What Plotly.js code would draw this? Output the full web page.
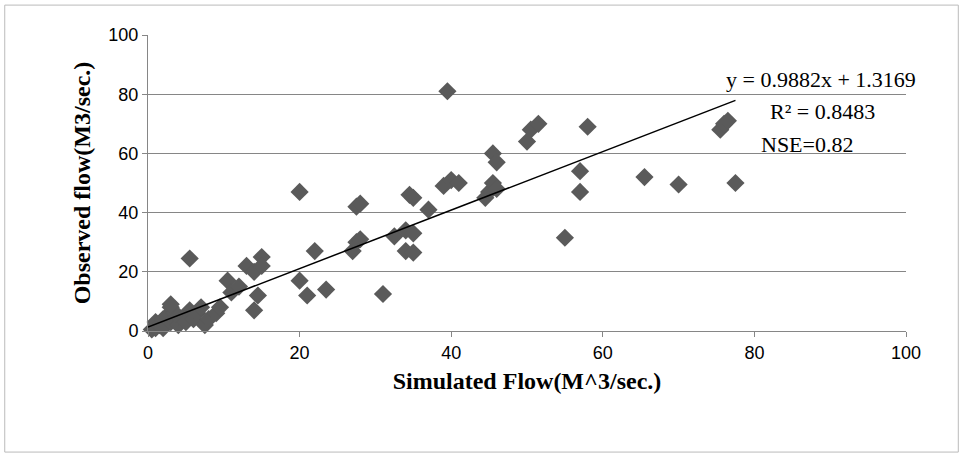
<!DOCTYPE html>
<html>
<head>
<script src="https://cdn.plot.ly/plotly-3.0.1.min.js"></script>
<style>body{margin:0;background:#fff}</style>
</head>
<body>
<div id="chart" style="width:963px;height:457px"></div>
<script>
// simulated vs observed flow
let simulated = [0.5, 1, 1, 1.5, 2, 2, 2.5, 3, 3, 3.5, 3, 4, 4, 5, 5.5, 6, 6.5, 7, 7.5, 8, 9, 9.5,
    5.5, 10.5, 11, 12, 13, 14, 14, 14.5, 15, 15, 20, 20, 21, 22, 23.5, 27, 27.5, 27.5, 28, 28,
    31, 32.5, 34, 34, 34.5, 35, 35, 35, 37, 39, 39.5, 40, 41, 44.5, 45, 45.5, 45.5, 46, 46,
    50, 50.5, 51.5, 55, 57, 57, 58, 65.5, 70, 75.5, 76, 76.5, 77.5];
let observed = [0.5, 1, 3, 2, 4, 1, 5, 3, 8, 6, 9, 2, 5, 3, 7, 4, 6, 8, 2, 4, 6, 8,
    24.5, 17, 13, 15, 22, 7, 20, 12, 25, 22, 47, 17, 12, 27, 14, 27, 30, 42, 43, 31,
    12.5, 32, 34, 27, 46, 26.5, 33, 45, 41, 49, 81, 51, 50, 45, 47, 50, 60, 57, 48,
    64, 68, 70, 31.5, 47, 54, 69, 52, 49.5, 68, 70, 71, 50];
let slope = 0.9882, intercept = 1.3169;
let fitX = [0, 77.5];
let fitY = fitX.map(v => slope * v + intercept);

let serif = "Liberation Serif, Times New Roman, serif";
let labelFont = {family: serif, size: 22, color: "#000"};
let data = [
    {
        type: "scatter", mode: "markers", x: simulated, y: observed,
        marker: {symbol: "diamond", size: 14, color: "#5a5a5a"},
        showlegend: false, cliponaxis: false
    },
    {
        type: "scatter", mode: "lines", x: fitX, y: fitY,
        line: {color: "#000", width: 1.5}, showlegend: false
    }
];
let layout = {
    width: 963, height: 457,
    margin: {l: 148, r: 57, t: 35, b: 126},
    paper_bgcolor: "#fff", plot_bgcolor: "#fff",
    xaxis: {
        range: [0, 100], dtick: 20, showgrid: false, zeroline: false,
        showline: true, linecolor: "#868686", ticks: "outside", ticklen: 5, tickcolor: "#868686",
        tickfont: {family: "Liberation Sans, Arial", size: 18, color: "#000"},
        title: {text: "<b>Simulated Flow(M^3/sec.)</b>", font: {family: serif, size: 24, color: "#000"}, standoff: 10}
    },
    yaxis: {
        range: [0, 100], dtick: 20, gridcolor: "#868686", gridwidth: 1, zeroline: false,
        showline: true, linecolor: "#868686", ticks: "outside", ticklen: 5, tickcolor: "#868686",
        tickfont: {family: "Liberation Sans, Arial", size: 18, color: "#000"},
        title: {text: "<b>Observed flow(M3/sec.)</b>", font: {family: serif, size: 24, color: "#000"}, standoff: 10}
    },
    annotations: [
        {x: 88.8, y: 85, xanchor: "center", text: "y = 0.9882x + 1.3169", showarrow: false, font: labelFont},
        {x: 89, y: 74, xanchor: "center", text: "R² = 0.8483", showarrow: false, font: labelFont},
        {x: 87, y: 63, xanchor: "center", text: "NSE=0.82", showarrow: false, font: labelFont}
    ],
    shapes: [
        {type: "rect", xref: "paper", yref: "paper", x0: -0.189, x1: 1.069, y0: -0.409, y1: 1.101,
         line: {color: "#bbb", width: 1}}
    ]
};
Plotly.newPlot("chart", data, layout, {displayModeBar: false});
</script>
</body>
</html>
